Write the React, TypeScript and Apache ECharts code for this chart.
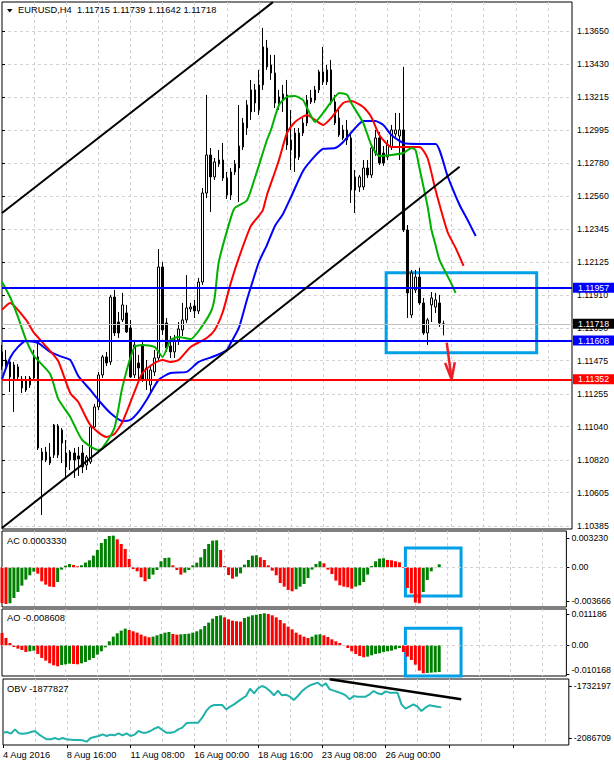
import React, { useEffect, useRef } from "react";
import * as echarts from "echarts";

const FONT = "'Liberation Sans', Arial, sans-serif";
const SLOT_COUNT = 143;
const categories: string[] = Array.from({ length: SLOT_COUNT }, (_, i) => String(i));
const timeLabels = ["4 Aug 2016", "8 Aug 16:00", "11 Aug 08:00", "16 Aug 00:00", "18 Aug 16:00", "23 Aug 08:00", "26 Aug 00:00"];
const LABEL_STEP = 16;
const GRID_STEP = 8;

const opens = [
  1.11533, 1.11434, 1.11467, 1.11447, 1.11434, 1.11354, 1.11282, 1.11315, 1.11361, 1.115,
  1.1082, 1.10873, 1.108, 1.10853, 1.11045, 1.10932, 1.10866, 1.1082, 1.10866, 1.10847,
  1.10866, 1.10787, 1.10807, 1.11038, 1.1117, 1.11381, 1.115, 1.11467, 1.11895, 1.1173,
  1.11744, 1.1179, 1.11691, 1.11381, 1.1146, 1.11579, 1.11348, 1.11315, 1.11401, 1.11493,
  1.12093, 1.11724, 1.11572, 1.11533, 1.11612, 1.11678, 1.11744, 1.11816, 1.11836, 1.11803,
  1.11994, 1.12581, 1.12832, 1.12687, 1.12773, 1.12799, 1.1268, 1.12568, 1.1272, 1.12746,
  1.12885, 1.1301, 1.13116, 1.13261, 1.13129, 1.13294, 1.13538, 1.13426, 1.13373, 1.13175,
  1.13194, 1.13228, 1.12931, 1.12977, 1.12819, 1.12977, 1.13043, 1.13208, 1.13194, 1.13261,
  1.13314, 1.13314, 1.13393, 1.13182, 1.13076, 1.12997, 1.12997, 1.12944, 1.12687, 1.12621,
  1.12621, 1.12746, 1.127, 1.12845, 1.12944, 1.12845, 1.12819, 1.12885, 1.12971, 1.12957,
  1.12997, 1.12337, 1.11777, 1.11942, 1.12027, 1.11856, 1.11658, 1.11843, 1.11829, 1.11856,
  1.11715,
];
const highs = [
  1.11579, 1.11546, 1.11493, 1.11467, 1.11453, 1.11374, 1.11374, 1.11374, 1.11546, 1.11592,
  1.10899, 1.10906, 1.10932, 1.11058, 1.11058, 1.11031, 1.10952, 1.10886, 1.10899, 1.10906,
  1.10919, 1.10853, 1.11051, 1.1119, 1.11401, 1.11513, 1.11533, 1.11909, 1.11942, 1.11796,
  1.11922, 1.11843, 1.11744, 1.11612, 1.11513, 1.11612, 1.1148, 1.11447, 1.11546, 1.12212,
  1.12126, 1.11757, 1.11638, 1.11645, 1.1173, 1.11856, 1.1204, 1.11856, 1.11876, 1.12021,
  1.12614, 1.13228, 1.12878, 1.12812, 1.12865, 1.12911, 1.1272, 1.12746, 1.12799, 1.13162,
  1.13076, 1.13194, 1.13327, 1.133, 1.13393, 1.1367, 1.13591, 1.13492, 1.13492, 1.13261,
  1.13294, 1.13327, 1.13129, 1.1301, 1.1301, 1.13076, 1.13228, 1.13261, 1.13287, 1.13393,
  1.13545, 1.13426, 1.13459, 1.13228, 1.13129, 1.1303, 1.13063, 1.12984, 1.12733, 1.127,
  1.12799, 1.12799, 1.12898, 1.12997, 1.12984, 1.12891, 1.12931, 1.1303, 1.13109, 1.13109,
  1.13413, 1.1237, 1.12074, 1.12074, 1.12087, 1.11889, 1.11757, 1.11928, 1.11922, 1.11909,
  1.11739,
];
const lows = [
  1.11414, 1.11421, 1.11269, 1.11137, 1.11348, 1.11262, 1.11269, 1.11295, 1.11348, 1.10886,
  1.10457, 1.10807, 1.10787, 1.10833, 1.10833, 1.108, 1.10708, 1.10754, 1.10702, 1.10715,
  1.10734, 1.10754, 1.10794, 1.11018, 1.1115, 1.11361, 1.1144, 1.11447, 1.11638, 1.11625,
  1.1173, 1.11658, 1.11361, 1.11361, 1.11348, 1.11335, 1.11282, 1.11269, 1.11374, 1.11467,
  1.11645, 1.11533, 1.11493, 1.11493, 1.11579, 1.11638, 1.11724, 1.11796, 1.11757, 1.11783,
  1.11975, 1.12548, 1.12456, 1.12667, 1.12753, 1.12661, 1.12542, 1.12535, 1.127, 1.12522,
  1.12865, 1.12964, 1.13063, 1.13116, 1.13096, 1.13261, 1.13393, 1.13327, 1.13142, 1.13129,
  1.13116, 1.12865, 1.12733, 1.1272, 1.12799, 1.12957, 1.13023, 1.13168, 1.13175, 1.13241,
  1.13294, 1.13294, 1.13162, 1.1303, 1.12951, 1.12931, 1.12898, 1.12515, 1.12449, 1.12588,
  1.12601, 1.1268, 1.1268, 1.12826, 1.12766, 1.1276, 1.12799, 1.12865, 1.12951, 1.12799,
  1.12324, 1.11757, 1.11757, 1.11922, 1.11843, 1.11645, 1.11579, 1.1173, 1.1179, 1.11698,
  1.11642,
];
const closes = [
  1.1144, 1.1148, 1.11368, 1.11348, 1.11368, 1.11295, 1.11348, 1.11361, 1.115, 1.10899,
  1.10873, 1.1082, 1.1084, 1.11051, 1.10853, 1.11018, 1.10774, 1.10873, 1.1082, 1.10827,
  1.10774, 1.1084, 1.11038, 1.1117, 1.11381, 1.115, 1.1146, 1.11895, 1.11658, 1.11658,
  1.11843, 1.11665, 1.11368, 1.11579, 1.11427, 1.11348, 1.11427, 1.11414, 1.11493, 1.12093,
  1.11678, 1.11559, 1.11533, 1.11612, 1.11684, 1.11744, 1.11823, 1.11829, 1.11803, 1.11994,
  1.12581, 1.12832, 1.12687, 1.12786, 1.12799, 1.1268, 1.12568, 1.1272, 1.12773, 1.12891,
  1.13043, 1.13162, 1.13261, 1.13175, 1.13294, 1.13545, 1.13413, 1.13373, 1.13175, 1.13215,
  1.13234, 1.12898, 1.12865, 1.12812, 1.12977, 1.13043, 1.13194, 1.13182, 1.13261, 1.1338,
  1.1338, 1.13393, 1.13175, 1.13043, 1.12964, 1.12944, 1.12931, 1.12601, 1.12601, 1.12687,
  1.12746, 1.127, 1.12878, 1.12944, 1.12779, 1.12779, 1.12898, 1.12997, 1.12997, 1.12997,
  1.12337, 1.11922, 1.12054, 1.12027, 1.11856, 1.11658, 1.11744, 1.11889, 1.11876, 1.11724,
  1.11718,
];

// Alligator lines, read at sample bars: [bar index, price]
const jawLine = [
  [0, 1.11354], [2, 1.11493], [4, 1.11566], [6, 1.11605], [9, 1.11592], [12, 1.11533], [15, 1.115],
  [17, 1.1148], [19, 1.11374], [22, 1.11282], [24, 1.11216], [27, 1.1113], [30, 1.11077], [32, 1.11084],
  [34, 1.11137], [36, 1.11216], [39, 1.11348], [42, 1.11394], [46, 1.11401], [49, 1.11467], [53, 1.11506],
  [56, 1.11546], [57, 1.11592], [59, 1.11691], [61, 1.11876], [62, 1.11961], [64, 1.12126], [66, 1.12238],
  [68, 1.12364], [70, 1.12443], [72, 1.12555], [75, 1.12727], [78, 1.12826], [80, 1.12872], [83, 1.12878],
  [85, 1.12918], [88, 1.1301], [90, 1.13056], [93, 1.13056], [95, 1.1303], [97, 1.12964], [100, 1.12911],
  [104, 1.12905], [108, 1.12905], [111, 1.12693], [114, 1.12502], [116, 1.12403], [118, 1.12298],
];
const teethLine = [
  [0, 1.1181], [2, 1.11856], [6, 1.11744], [8, 1.11658], [12, 1.11539], [14, 1.11473], [17, 1.11262],
  [19, 1.11203], [22, 1.11051], [26, 1.10972], [28, 1.10992], [30, 1.11071], [33, 1.11269], [35, 1.11394],
  [38, 1.1146], [40, 1.1148], [42, 1.11467], [44, 1.1148], [47, 1.11566], [51, 1.11625], [53, 1.11678],
  [55, 1.11796], [57, 1.11988], [59, 1.12153], [62, 1.12364], [64, 1.1243], [65, 1.12469], [66, 1.12568],
  [68, 1.1272], [69, 1.12799], [71, 1.12977], [73, 1.1305], [76, 1.13096], [78, 1.13063], [80, 1.1303],
  [82, 1.13076], [85, 1.13175], [87, 1.13188], [90, 1.13149], [92, 1.13083], [94, 1.12964], [97, 1.12885],
  [100, 1.12885], [104, 1.12885], [106, 1.12812], [108, 1.12601], [111, 1.12324], [113, 1.12219], [115, 1.121],
];
const lipsLine = [
  [0, 1.11994], [2, 1.11895], [4, 1.11763], [6, 1.11612], [8, 1.11506], [12, 1.11387], [14, 1.11223],
  [17, 1.11104], [20, 1.10952], [24, 1.10886], [25, 1.10899], [28, 1.11031], [30, 1.11302], [33, 1.11566],
  [35, 1.11579], [38, 1.11566], [40, 1.115], [42, 1.11612], [44, 1.11632], [47, 1.11618], [49, 1.11671],
  [52, 1.11796], [53, 1.11895], [54, 1.12126], [57, 1.12417], [58, 1.12483], [61, 1.12532], [63, 1.1268],
  [66, 1.12931], [67, 1.12997], [69, 1.13162], [71, 1.13215], [73, 1.13221], [75, 1.13194], [76, 1.13142],
  [78, 1.1305], [80, 1.13109], [82, 1.13182], [84, 1.13241], [86, 1.13228], [87, 1.13175], [90, 1.13043],
  [92, 1.12898], [94, 1.12826], [97, 1.12832], [100, 1.12845], [102, 1.12878], [103, 1.12865], [104, 1.12746],
  [106, 1.12496], [107, 1.12337], [108, 1.12238], [109, 1.12139], [112, 1.11981], [113, 1.11922],
];

const acValues = [
  -0.003906, -0.004015, -0.003942, -0.003358, -0.002701, -0.002008, -0.001351, -0.000876, -0.000475, -0.000694,
  -0.001533, -0.001898, -0.002117, -0.002154, -0.001606, -0.000256, 0.000183, 0.000365, 0.000256, 0.00011,
  0.000219, 0.000511, 0.000767, 0.001278, 0.001898, 0.002665, 0.003103, 0.003431, 0.003468, 0.003066,
  0.002555, 0.002008, 0.000913, -0.000183, -0.000438, -0.001095, -0.001533, -0.001278, -0.000803, -0.000292,
  0.000657, 0.001022, 0.001059, 0.000219, -0.000292, -0.000803, -0.000584, -0.000292, 0.000219, 0.000511,
  0.001095, 0.002008, 0.002555, 0.00292, 0.002957, 0.001898, 0.000146, -0.00084, -0.001241, -0.001022,
  -0.000657, 0.000292, 0.000803, 0.001278, 0.001314, 0.001095, 0.000803, 0.000219, -0.000365, -0.000876,
  -0.001716, -0.002117, -0.002482, -0.002628, -0.002409, -0.002117, -0.001825, -0.001168, -0.000256, 0.000365,
  0.000657, 0.000438, -0.000256, -0.00073, -0.00146, -0.001971, -0.002117, -0.00219, -0.002336, -0.002117,
  -0.001971, -0.001606, -0.000803, 0.000146, 0.000657, 0.000949, 0.000986, 0.000803, 0.000767, 0.000657,
  0.000548, -0.000073, -0.002263, -0.002847, -0.003869, -0.003942, -0.002701, -0.001387, -0.000438, 0.000037,
  0.000333,
];
const aoValues = [
  0.004403, 0.002618, 0.000833, -0.000595, -0.00119, -0.001666, -0.00238, -0.002142, -0.001904, -0.003094,
  -0.004522, -0.005474, -0.006426, -0.00714, -0.007497, -0.007021, -0.006783, -0.006545, -0.006664, -0.006783,
  -0.006426, -0.00595, -0.005236, -0.004522, -0.003332, -0.002142, -0.000714, 0.001428, 0.003094, 0.004284,
  0.005236, 0.00595, 0.005474, 0.004998, 0.004522, 0.003808, 0.003213, 0.002856, 0.003094, 0.00357,
  0.004046, 0.004522, 0.00476, 0.004046, 0.003808, 0.003927, 0.004046, 0.004165, 0.004522, 0.004998,
  0.005712, 0.006902, 0.008092, 0.00952, 0.010472, 0.01071, 0.009996, 0.009282, 0.008806, 0.008568,
  0.008449, 0.009758, 0.010234, 0.01071, 0.010948, 0.011186, 0.011424, 0.011186, 0.01071, 0.009996,
  0.009044, 0.007854, 0.006664, 0.005712, 0.004522, 0.003808, 0.003094, 0.002618, 0.003094, 0.003808,
  0.003927, 0.00357, 0.002975, 0.002142, 0.001428, 0.000833, 0.000119, -0.000952, -0.002142, -0.003094,
  -0.003808, -0.004284, -0.004046, -0.00357, -0.003094, -0.002856, -0.00238, -0.002142, -0.001904, -0.001428,
  -0.000952, -0.00238, -0.004046, -0.005236, -0.006902, -0.009044, -0.009996, -0.009877, -0.009758, -0.009639,
  -0.00952,
];
const obvValues = [
  -2050347, -2045802, -2057165, -2027622, -2054892, -2057165, -2054892, -2045802, -2038985, -2061710,
  -2079890, -2095797, -2095797, -2086707, -2095797, -2086707, -2095797, -2098070, -2100342, -2100342,
  -2102615, -2111705, -2086707, -2079890, -2073072, -2061710, -2073072, -2063982, -2068527, -2054892,
  -2068527, -2054892, -2073072, -2063982, -2038985, -2050347, -2050347, -2038985, -2023077, -2011715,
  -2032167, -2050347, -2050347, -2045802, -2027622, -2016260, -1986717, -1982172, -1982172, -1982172,
  -1948085, -1902635, -1873092, -1861730, -1861730, -1861730, -1891272, -1873092, -1857185, -1836732,
  -1818552, -1800372, -1750377, -1782192, -1748105, -1732197, -1743560, -1766285, -1795827, -1764012,
  -1795827, -1791282, -1804917, -1827642, -1800372, -1768557, -1745832, -1727652, -1718562, -1709472,
  -1732197, -1714017, -1754922, -1764012, -1773102, -1782192, -1795827, -1823097, -1800372, -1804917,
  -1804917, -1804917, -1789010, -1766285, -1782192, -1789010, -1768557, -1777647, -1777647, -1777647,
  -1857185, -1886727, -1873092, -1857185, -1873092, -1902635, -1879910, -1864002, -1868547, -1873092,
  -1877827,
];

const priceTicks = [1.1365, 1.1343, 1.13215, 1.12995, 1.1278, 1.1256, 1.12345, 1.12125, 1.1191, 1.1169, 1.11475, 1.11255, 1.1104, 1.1082, 1.10605, 1.10385];
const acTicks = [0.00323, 0, -0.003666];
const aoTicks = [0.011186, 0, -0.010168];
const obvTicks = [-1732197, -2086709];

const blueLevels = [1.11957, 1.11608];
const targetLevel = 1.11352;
const bidPrice = 1.11718;

const upperTrend = [[0, 1.12449], [67.5, 1.1384]];
const lowerTrend = [[0, 1.10372], [114, 1.12754]];
const obvTrend = [[82, -1686520], [115, -1822870]];
const arrowStem = [[110.8, 1.11594], [112.0, 1.11352]];
const arrowHead = [[110.4, 1.1146], [112.0, 1.11352], [112.8, 1.11465]];
const mainBox = [[95.7, 1.12056], [133.2, 1.11528]];
const acBox = [["101", 0.002113], ["116", -0.003143]];
const aoBox = [["101", 0.00607], ["116", -0.0122]];

const headerMain = "EURUSD,H4  1.11715 1.11739 1.11642 1.11718";
const headerAC = "AC 0.0003330";
const headerAO = "AO -0.008608";
const headerOBV = "OBV -1877827";

export default function App() {
  const ref = useRef<HTMLDivElement>(null);
  useEffect(() => {
    if (!ref.current) return;
    const chart = echarts.init(ref.current, null, { renderer: "svg" });
    const dash = { color: "#d2d2d2", type: [3, 3] as number[], width: 1 };
    const txt = { fontFamily: FONT, fontSize: 9.3, color: "#000", fontWeight: "normal" as const };
    const rlab = { fontFamily: FONT, fontSize: 8.8, color: "#000", margin: 5 };
    const GREEN = "#008000";
    const RED = "#ff0000";
    const BOX = "#00a0e6";

    const catAxis = (gridIndex: number, bottom: boolean) => ({
      type: "category",
      gridIndex,
      data: categories,
      boundaryGap: false,
      axisLine: { show: false },
      axisTick: bottom
        ? { show: true, interval: (i: number) => i % LABEL_STEP === 0, length: 3, lineStyle: { color: "#000" } }
        : { show: false },
      axisLabel: bottom
        ? {
            show: true,
            interval: (i: number) => i % LABEL_STEP === 0 && i / LABEL_STEP < timeLabels.length,
            formatter: (_v: string, i: number) => timeLabels[i / LABEL_STEP] ?? "",
            align: "left",
            margin: 5,
            ...txt,
          }
        : { show: false },
      splitLine: { show: true, interval: (i: number) => i > 0 && i % GRID_STEP === 0, lineStyle: dash },
    });

    const barData = (vals: number[]) =>
      vals.map((v, i) => ({ value: v, itemStyle: { color: i > 0 && v > vals[i - 1] ? GREEN : RED } }));

    const gridBase = { left: 2, width: 570, show: true, borderColor: "#000", borderWidth: 1 };

    const option: any = {
      animation: false,
      backgroundColor: "#fff",
      title: [
        { text: headerMain, left: 18, top: 5, padding: 0, textStyle: txt },
        { text: headerAC, left: 7, top: 536, padding: 0, textStyle: txt },
        { text: headerAO, left: 7, top: 613.5, padding: 0, textStyle: txt },
        { text: headerOBV, left: 7, top: 684, padding: 0, textStyle: txt },
      ],
      graphic: [
        { type: "polygon", shape: { points: [[7, 9], [12.5, 9], [9.75, 12.5]] }, style: { fill: "#000" } },
      ],
      grid: [
        { ...gridBase, top: 2, height: 527 },
        { ...gridBase, top: 531, height: 76 },
        { ...gridBase, top: 609, height: 67 },
        { ...gridBase, top: 679, height: 66 },
      ],
      xAxis: [
        catAxis(0, false),
        catAxis(1, false),
        catAxis(2, false),
        catAxis(3, true),
        { type: "value", gridIndex: 0, min: 0, max: SLOT_COUNT - 1, show: false },
      ],
      yAxis: [
        {
          type: "value", gridIndex: 0, position: "right", min: 1.10365, max: 1.13841,
          axisLine: { show: false },
          axisTick: { show: true, length: 3, customValues: priceTicks, lineStyle: { color: "#000" } },
          axisLabel: { customValues: priceTicks, formatter: (v: number) => v.toFixed(5), ...rlab },
          splitLine: { show: true, lineStyle: dash },
        },
        {
          type: "value", gridIndex: 1, position: "right", min: -0.004347, max: 0.003975,
          axisLine: { show: false },
          axisTick: { show: true, length: 3, customValues: acTicks, lineStyle: { color: "#000" } },
          axisLabel: { customValues: acTicks, formatter: (v: number) => (v === 0 ? "0.00" : v.toFixed(6)), ...rlab },
          splitLine: { show: false },
        },
        {
          type: "value", gridIndex: 2, position: "right", min: -0.01096, max: 0.01296,
          axisLine: { show: false },
          axisTick: { show: true, length: 3, customValues: aoTicks, lineStyle: { color: "#000" } },
          axisLabel: {
            customValues: aoTicks,
            formatter: (v: number) => (v === 0 ? "0.00" : v < 0 ? "{lo|" + v.toFixed(6) + "}" : v.toFixed(6)),
            rich: { lo: { fontFamily: FONT, fontSize: 8.8, color: "#000", padding: [0, 0, 7, 0] } },
            ...rlab,
          },
          splitLine: { show: false },
        },
        {
          type: "value", gridIndex: 3, position: "right", min: -2134430, max: -1684474,
          axisLine: { show: false },
          axisTick: { show: true, length: 3, customValues: obvTicks, lineStyle: { color: "#000" } },
          axisLabel: { customValues: obvTicks, formatter: (v: number) => String(Math.round(v)), ...rlab },
          splitLine: { show: false },
        },
      ],
      series: [
        {
          type: "candlestick", xAxisIndex: 0, yAxisIndex: 0, z: 2,
          data: opens.map((o, i) => [o, closes[i], lows[i], highs[i]]),
          barWidth: 2,
          itemStyle: { color: "#fff", color0: "#000", borderColor: "#000", borderColor0: "#000", borderWidth: 1 },
        },
        {
          type: "line", xAxisIndex: 4, yAxisIndex: 0, z: 3, data: jawLine, symbol: "none", smooth: 0.2,
          lineStyle: { color: "#0000ff", width: 2 },
        },
        {
          type: "line", xAxisIndex: 4, yAxisIndex: 0, z: 3, data: teethLine, symbol: "none", smooth: 0.2,
          lineStyle: { color: "#ff0000", width: 2 },
        },
        {
          type: "line", xAxisIndex: 4, yAxisIndex: 0, z: 3, data: lipsLine, symbol: "none", smooth: 0.2,
          lineStyle: { color: "#00b000", width: 2 },
        },
        {
          type: "line", xAxisIndex: 4, yAxisIndex: 0, z: 4, data: upperTrend, symbol: "none",
          lineStyle: { color: "#000", width: 2 },
        },
        {
          type: "line", xAxisIndex: 4, yAxisIndex: 0, z: 5, data: lowerTrend, symbol: "none", clip: false,
          lineStyle: { color: "#000", width: 2 },
          markLine: {
            silent: true, symbol: ["none", "none"], precision: 5,
            label: {
              show: true, position: "end", distance: 1, color: "#fff", fontFamily: FONT, fontSize: 8.8,
              lineHeight: 10, padding: [0, 8, 0, 5],
              formatter: (p: any) => Number(p.value).toFixed(5),
            },
            data: [
              { yAxis: bidPrice, lineStyle: { color: "#c0c0c0", width: 1, type: "solid" }, label: { backgroundColor: "#000" } },
              ...blueLevels.map((v) => ({ yAxis: v, lineStyle: { color: "#0000ff", width: 2, type: "solid" }, label: { backgroundColor: "#0000ff" } })),
              { yAxis: targetLevel, lineStyle: { color: "#ff0000", width: 2, type: "solid" }, label: { backgroundColor: "#ff0000" } },
            ],
          },
          markArea: {
            silent: true,
            itemStyle: { color: "rgba(0,0,0,0)", borderColor: BOX, borderWidth: 3 },
            data: [[{ coord: mainBox[0] }, { coord: mainBox[1] }]],
          },
        },
        {
          type: "line", xAxisIndex: 4, yAxisIndex: 0, z: 6, data: arrowStem, symbol: "none",
          lineStyle: { color: "#ee1c25", width: 2.5 },
        },
        {
          type: "line", xAxisIndex: 4, yAxisIndex: 0, z: 6, data: arrowHead, symbol: "none",
          lineStyle: { color: "#ee1c25", width: 2.5 },
        },
        {
          type: "bar", xAxisIndex: 1, yAxisIndex: 1, data: barData(acValues), barWidth: 3,
          markLine: {
            silent: true, symbol: ["none", "none"], label: { show: false }, precision: 6,
            lineStyle: dash, data: [{ yAxis: 0 }],
          },
          markArea: {
            silent: true,
            itemStyle: { color: "rgba(0,0,0,0)", borderColor: BOX, borderWidth: 3 },
            data: [[{ xAxis: acBox[0][0], yAxis: acBox[0][1] }, { xAxis: acBox[1][0], yAxis: acBox[1][1] }]],
          },
        },
        {
          type: "bar", xAxisIndex: 2, yAxisIndex: 2, data: barData(aoValues), barWidth: 3,
          markLine: {
            silent: true, symbol: ["none", "none"], label: { show: false }, precision: 6,
            lineStyle: dash, data: [{ yAxis: 0 }],
          },
          markArea: {
            silent: true,
            itemStyle: { color: "rgba(0,0,0,0)", borderColor: BOX, borderWidth: 3 },
            data: [[{ xAxis: aoBox[0][0], yAxis: aoBox[0][1] }, { xAxis: aoBox[1][0], yAxis: aoBox[1][1] }]],
          },
        },
        {
          type: "line", xAxisIndex: 3, yAxisIndex: 3, data: obvValues, symbol: "none",
          lineStyle: { color: "#20b2aa", width: 2 },
        },
        {
          type: "line", xAxisIndex: 3, yAxisIndex: 3, data: obvTrend, symbol: "none", z: 4,
          lineStyle: { color: "#000", width: 2.5 },
        },
      ],
    };
    chart.setOption(option);
    return () => chart.dispose();
  }, []);
  return <div ref={ref} style={{ position: "absolute", left: 0, top: 0, width: 614, height: 766, background: "#fff" }} />;
}
